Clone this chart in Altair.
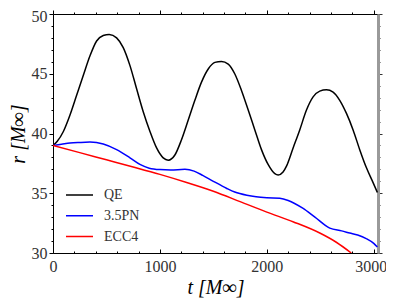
import altair as alt
import pandas as pd

# ---- data ----
qe_t = [0, 40, 97, 159, 221, 283, 346, 408, 470, 526, 595, 657, 720, 782, 844, 907, 969,
        1031, 1078, 1140, 1202, 1265, 1327, 1389, 1452, 1514, 1576, 1639, 1701, 1763, 1826,
        1888, 1950, 2012, 2075, 2106, 2152, 2184, 2246, 2308, 2371, 2433, 2495, 2558, 2620,
        2682, 2745, 2807, 2869, 2932, 2994, 3034]
qe_r = [39.0, 39.35, 40.17, 41.55, 43.2, 44.85, 46.5, 47.74, 48.2, 48.29, 48.0, 47.19, 45.68,
        43.74, 41.82, 40.17, 38.79, 37.96, 37.77, 38.2, 39.48, 41.13, 42.78, 44.3, 45.4, 45.95,
        46.03, 45.81, 44.98, 43.6, 41.96, 40.3, 38.65, 37.41, 36.64, 36.53, 36.78, 37.27, 38.79,
        40.3, 41.96, 43.06, 43.55, 43.66, 43.47, 42.78, 41.68, 40.3, 38.65, 37.13, 35.89, 35.07]

pn_t = [0, 80, 159, 250, 346, 470, 595, 720, 813, 900, 1000, 1100, 1234, 1320, 1400, 1500,
        1626, 1700, 1813, 1900, 2000, 2121, 2200, 2336, 2450, 2589, 2700, 2776, 2850, 2930,
        3000, 3034]
pn_r = [39.0, 39.1, 39.2, 39.25, 39.28, 39.12, 38.65, 37.96, 37.41, 37.1, 36.98, 36.95, 37.0,
        36.85, 36.5, 36.0, 35.4, 35.1, 34.83, 34.7, 34.62, 34.58, 34.4, 33.75, 33.0, 32.08,
        31.85, 31.67, 31.5, 31.2, 30.8, 30.5]

ecc_t = [0, 250, 500, 750, 1000, 1250, 1500, 1750, 2000, 2250, 2500, 2650, 2790]
ecc_r = [39.0, 38.4, 37.8, 37.2, 36.58, 35.9, 35.17, 34.3, 33.42, 32.6, 31.65, 30.9, 30.0]

series = ["QE", "3.5PN", "ECC4"]
colors = ["#000000", "#0000ff", "#ff0000"]

x_major = [0, 1000, 2000, 3000]
x_ticks = list(range(0, 3001, 200))
y_ticks = list(range(30, 51))

rows = []
for name, ts, rs in [("QE", qe_t, qe_r), ("3.5PN", pn_t, pn_r), ("ECC4", ecc_t, ecc_r)]:
    for i, (t, r) in enumerate(zip(ts, rs)):
        rows.append({"series": name, "t": t, "r": r, "order": i})
df = pd.DataFrame(rows)

FONT = "Liberation Serif"
W, H = 325, 239

xscale = alt.Scale(domain=[0, 3040], nice=False, zero=False)
yscale = alt.Scale(domain=[30, 50], nice=False, zero=False)

lines = alt.Chart(df).mark_line(strokeWidth=1.5, clip=True, interpolate="monotone").encode(
    x=alt.X("t:Q", scale=xscale, axis=alt.Axis(
        orient="bottom", values=x_major, ticks=False, grid=False, labelFlush=False,
        format="d", labelOffset={"expr": "datum.value === 3000 ? -3 : 0"},
        domainColor="#000000", domainWidth=1,
        labelFont=FONT, labelFontSize=16, labelColor="#333333", labelPadding=5,
        title="t [M\u221e]", titleFont=FONT, titleFontSize=20, titleFontStyle="italic",
        titleFontWeight="normal", titleColor="#000000", titleBaseline="alphabetic",
        titleY=40)),
    y=alt.Y("r:Q", scale=yscale, axis=alt.Axis(
        orient="left", values=y_ticks, grid=False, labelFlush=False,
        labelExpr="datum.value % 5 === 0 ? datum.label : ''",
        labelOffset={"expr": "datum.value === 50 ? 2 : 0"},
        tickSize={"expr": "datum.value % 5 === 0 ? 4 : 2"},
        tickColor="#000000", domainColor="#000000", domainWidth=1,
        labelFont=FONT, labelFontSize=16, labelColor="#333333", labelPadding=2,
        title="r [M\u221e]", titleFont=FONT, titleFontSize=20, titleFontStyle="italic",
        titleFontWeight="normal", titleColor="#000000", titleBaseline="alphabetic",
        titleX=-29)),
    color=alt.Color("series:N", sort=series,
                    scale=alt.Scale(domain=series, range=colors),
                    legend=alt.Legend(orient="none", legendX=12, legendY=172, title=None,
                                      symbolType="stroke", symbolSize=729,
                                      symbolStrokeWidth=1.5, clipHeight=18, rowPadding=2.8,
                                      labelFont=FONT, labelFontSize=14, labelColor="#333333",
                                      labelOffset=10, padding=0)),
    order="order:Q",
)

# inward ticks along the bottom edge
bottom_ticks = alt.Chart(df).mark_point(opacity=0).encode(
    x=alt.X("t:Q", scale=xscale, axis=alt.Axis(
        orient="top", offset=-H, values=x_ticks, labels=False, domain=False, grid=False,
        tickSize={"expr": "datum.value % 1000 === 0 ? 4 : 2"}, tickColor="#000000",
        title=None)),
    y=alt.Y("r:Q", scale=yscale, axis=None),
)

# top and right frame with ticks
frame = alt.Chart(df).mark_point(opacity=0).encode(
    x=alt.X("t:Q", scale=xscale, axis=alt.Axis(
        orient="top", values=x_ticks, labels=False, grid=False,
        tickSize={"expr": "datum.value % 1000 === 0 ? 4 : 2"}, tickColor="#000000",
        domainColor="#000000", domainWidth=1, title=None)),
    y=alt.Y("r:Q", scale=yscale, axis=alt.Axis(
        orient="right", values=y_ticks, labels=False, grid=False,
        tickSize={"expr": "datum.value % 5 === 0 ? 4 : 2"}, tickColor="#333333",
        domainColor="#9a9a9a", domainWidth=3, title=None)),
)

chart = alt.layer(lines, bottom_ticks, frame).resolve_axis(
    x="independent", y="independent"
).properties(
    width=W, height=H,
    padding={"left": 45, "top": 6, "right": 8, "bottom": 45},
    autosize=alt.AutoSizeParams(type="none"),
).configure_view(stroke=None)

chart.save("out.html", embed_options={"renderer": "svg", "actions": False})
